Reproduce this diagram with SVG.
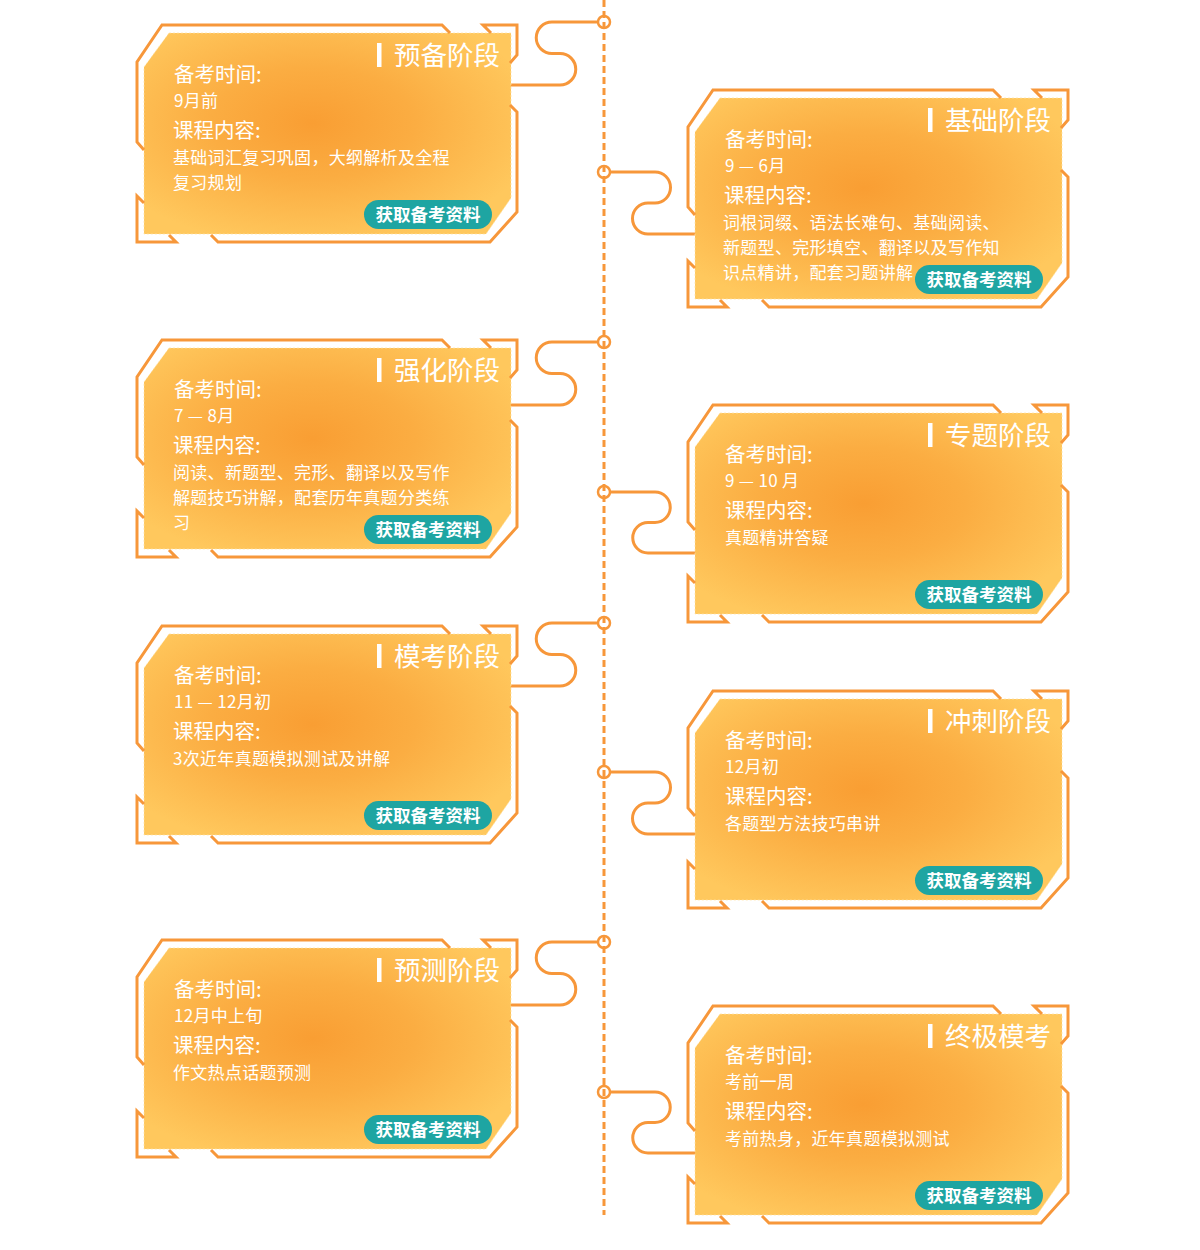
<svg xmlns="http://www.w3.org/2000/svg" xmlns:xlink="http://www.w3.org/1999/xlink" width="1200" height="1250" viewBox="0 0 1200 1250">
<style>
.frame{fill:none;stroke:#F7973A;stroke-width:3;stroke-linejoin:miter}
.fillbox{fill:url(#cardGrad);stroke:#FFE2A6;stroke-width:1;stroke-dasharray:2 2;stroke-opacity:0.7}
.t{font-family:"Noto Sans CJK SC","Noto Sans",sans-serif;fill:#fff}
.title{font-size:26.5px}
.lbl{font-size:20.5px}
.val{font-size:17px;letter-spacing:0.3px}
.btn{fill:#1EA5A2}
.btnt{font-size:17.5px;font-weight:bold;text-anchor:middle}
.conn{fill:none;stroke:#F7973A;stroke-width:3}
.axis{fill:none;stroke:#F7973A;stroke-width:3;stroke-dasharray:7 4}
.dot{fill:none;stroke:#F7973A;stroke-width:2.5}
</style>
<defs>
<radialGradient id="cardGrad" cx="0.46" cy="0.45" r="0.62">
<stop offset="0" stop-color="#F99E33"/>
<stop offset="0.45" stop-color="#FBAD42"/>
<stop offset="1" stop-color="#FFC85D"/>
</radialGradient>
<path id="fillShape" d="M169,33 L511,33 L511,198 L486,234 L144,234 L144,67 Z"/>
<path id="frameLines" d="M450,33 L442,25 L162,25 L137,62 L137,142 L144,150 M491,33 L483,25 L517,25 L517,55 L510,63 M510,105 L517,112 L517,212 L490,242 L218,242 L211,235 M144,203 L137,196 L137,242 L176,242 L169,235"/>
<g id="cardBase">
<use xlink:href="#fillShape" class="fillbox"/>
<use xlink:href="#frameLines" class="frame"/>
<rect x="377" y="43" width="4.5" height="24" fill="#fff"/>
<rect class="btn" x="364" y="200" width="128" height="29" rx="14.5"/>
<text class="t btnt" x="428" y="221">获取备考资料</text>
</g>
</defs>

<g id="connectors">
<path class="axis" d="M604,0 L604,1215"/>
<path class="conn" d="M598,22 L552,22 A15.75,15.75 0 0 0 552,53.5 L560,53.5 A15.75,15.75 0 0 1 560,85 L511,85"/>
<path class="conn" d="M598,342 L552,342 A15.75,15.75 0 0 0 552,373.5 L560,373.5 A15.75,15.75 0 0 1 560,405 L511,405"/>
<path class="conn" d="M598,623 L552,623 A15.75,15.75 0 0 0 552,654.5 L560,654.5 A15.75,15.75 0 0 1 560,686 L511,686"/>
<path class="conn" d="M598,942 L552,942 A15.75,15.75 0 0 0 552,973.5 L560,973.5 A15.75,15.75 0 0 1 560,1005 L511,1005"/>
<path class="conn" d="M610,172 L655,172 A15.5,15.5 0 0 1 655,203 L648,203 A15.5,15.5 0 0 0 648,234 L696,234"/>
<path class="conn" d="M610,492 L655,492 A15.25,15.25 0 0 1 655,522.5 L648,522.5 A15.25,15.25 0 0 0 648,553 L696,553"/>
<path class="conn" d="M610,772 L655,772 A15.5,15.5 0 0 1 655,803 L648,803 A15.5,15.5 0 0 0 648,834 L696,834"/>
<path class="conn" d="M610,1092 L655,1092 A15.25,15.25 0 0 1 655,1122.5 L648,1122.5 A15.25,15.25 0 0 0 648,1153 L696,1153"/>
<circle class="dot" cx="604" cy="22" r="6"/>
<circle class="dot" cx="604" cy="172" r="6"/>
<circle class="dot" cx="604" cy="342" r="6"/>
<circle class="dot" cx="604" cy="492" r="6"/>
<circle class="dot" cx="604" cy="623" r="6"/>
<circle class="dot" cx="604" cy="772" r="6"/>
<circle class="dot" cx="604" cy="942" r="6"/>
<circle class="dot" cx="604" cy="1092" r="6"/>
</g>

<g id="card-yubei" transform="translate(0,0)">
<use xlink:href="#cardBase"/>
<text class="t title" x="394" y="65">预备阶段</text>
<text class="t lbl" x="174" y="82">备考时间:</text>
<text class="t val" x="174" y="107">9月前</text>
<text class="t lbl" x="173" y="138">课程内容:</text>
<text class="t val" x="173" y="164">基础词汇复习巩固，大纲解析及全程</text>
<text class="t val" x="173" y="189">复习规划</text>
</g>

<g id="card-jichu" transform="translate(551,65)">
<use xlink:href="#cardBase"/>
<text class="t title" x="394" y="65">基础阶段</text>
<text class="t lbl" x="174" y="82">备考时间:</text>
<text class="t val" x="174" y="107">9 — 6月</text>
<text class="t lbl" x="173" y="138">课程内容:</text>
<text class="t val" x="172" y="164">词根词缀、语法长难句、基础阅读、</text>
<text class="t val" x="172" y="189">新题型、完形填空、翻译以及写作知</text>
<text class="t val" x="172" y="214">识点精讲，配套习题讲解</text>
</g>

<g id="card-qianghua" transform="translate(0,315)">
<use xlink:href="#cardBase"/>
<text class="t title" x="394" y="65">强化阶段</text>
<text class="t lbl" x="174" y="82">备考时间:</text>
<text class="t val" x="174" y="107">7 — 8月</text>
<text class="t lbl" x="173" y="138">课程内容:</text>
<text class="t val" x="173" y="164">阅读、新题型、完形、翻译以及写作</text>
<text class="t val" x="173" y="189">解题技巧讲解，配套历年真题分类练</text>
<text class="t val" x="173" y="214">习</text>
</g>

<g id="card-zhuanti" transform="translate(551,380)">
<use xlink:href="#cardBase"/>
<text class="t title" x="394" y="65">专题阶段</text>
<text class="t lbl" x="174" y="82">备考时间:</text>
<text class="t val" x="174" y="107">9 — 10 月</text>
<text class="t lbl" x="174" y="138">课程内容:</text>
<text class="t val" x="174" y="164">真题精讲答疑</text>
</g>

<g id="card-mokao" transform="translate(0,601)">
<use xlink:href="#cardBase"/>
<text class="t title" x="394" y="65">模考阶段</text>
<text class="t lbl" x="174" y="82">备考时间:</text>
<text class="t val" x="174" y="107">11 — 12月初</text>
<text class="t lbl" x="173" y="138">课程内容:</text>
<text class="t val" x="173" y="164">3次近年真题模拟测试及讲解</text>
</g>

<g id="card-chongci" transform="translate(551,666)">
<use xlink:href="#cardBase"/>
<text class="t title" x="394" y="65">冲刺阶段</text>
<text class="t lbl" x="174" y="82">备考时间:</text>
<text class="t val" x="174" y="107">12月初</text>
<text class="t lbl" x="174" y="138">课程内容:</text>
<text class="t val" x="174" y="164">各题型方法技巧串讲</text>
</g>

<g id="card-yuce" transform="translate(0,915)">
<use xlink:href="#cardBase"/>
<text class="t title" x="394" y="65">预测阶段</text>
<text class="t lbl" x="174" y="82">备考时间:</text>
<text class="t val" x="174" y="107">12月中上旬</text>
<text class="t lbl" x="173" y="138">课程内容:</text>
<text class="t val" x="173" y="164">作文热点话题预测</text>
</g>

<g id="card-zhongji" transform="translate(551,981)">
<use xlink:href="#cardBase"/>
<text class="t title" x="394" y="65">终极模考</text>
<text class="t lbl" x="174" y="82">备考时间:</text>
<text class="t val" x="174" y="107">考前一周</text>
<text class="t lbl" x="174" y="138">课程内容:</text>
<text class="t val" x="174" y="164">考前热身，近年真题模拟测试</text>
</g>
</svg>
